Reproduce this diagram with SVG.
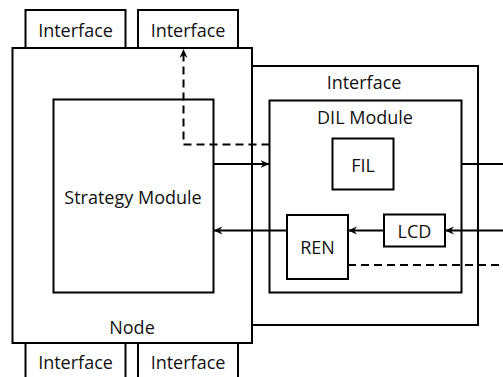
<svg xmlns="http://www.w3.org/2000/svg" width="503" height="377" viewBox="0 0 503 377">
<style>
.box{fill:none;stroke:#000;stroke-width:2}
.t{font-family:"Open Sans","Liberation Sans",sans-serif;font-size:18px;fill:#111;text-anchor:middle}
.c{fill:none;stroke:#000;stroke-width:2}
.d{stroke-dasharray:8 5}
</style>
<defs>
<marker id="ah" markerUnits="userSpaceOnUse" markerWidth="10" markerHeight="10" refX="9" refY="5" orient="auto">
<path d="M0,1 L9,5 L0,9 L3,5 z" fill="#000"/>
</marker>
</defs>
<rect width="503" height="377" fill="#fff"/>
<g id="if-top-1"><rect class="box" x="25.5" y="10" width="100" height="38"/><text class="t" x="75.5" y="36.5">Interface</text></g>
<g id="if-top-2"><rect class="box" x="138" y="10" width="100" height="38"/><text class="t" x="188" y="36.5">Interface</text></g>
<g id="if-bot-1"><rect class="box" x="25.5" y="343" width="100" height="40"/><text class="t" x="75.5" y="369">Interface</text></g>
<g id="if-bot-2"><rect class="box" x="138" y="343" width="100" height="40"/><text class="t" x="188" y="369">Interface</text></g>
<g id="node"><rect class="box" x="12.5" y="48" width="239.5" height="295" fill="#fff"/><text class="t" x="132" y="334">Node</text></g>
<g id="interface"><rect class="box" x="252" y="66" width="226" height="259"/><text class="t" x="364" y="89">Interface</text></g>
<g id="dil"><rect class="box" x="269.5" y="100.5" width="192" height="192"/><text class="t" x="365" y="124">DIL Module</text></g>
<g id="fil"><rect class="box" x="332.5" y="138.5" width="61" height="51"/><text class="t" x="363" y="172">FIL</text></g>
<g id="strategy"><rect class="box" x="53.5" y="99.5" width="160" height="193"/><text class="t" x="133" y="204">Strategy Module</text></g>
<g id="ren"><rect class="box" x="287" y="215" width="61" height="64"/><text class="t" x="317.5" y="253.5">REN</text></g>
<g id="lcd"><rect class="box" x="384" y="214.5" width="61" height="32"/><text class="t" x="414.5" y="238">LCD</text></g>
<g id="connectors">
<line class="c" x1="213.5" y1="164" x2="269.5" y2="164" marker-end="url(#ah)"/>
<line class="c" x1="461.5" y1="164" x2="503" y2="164"/>
<line class="c" x1="503" y1="230.5" x2="445" y2="230.5" marker-end="url(#ah)"/>
<line class="c" x1="384" y1="230.5" x2="348" y2="230.5" marker-end="url(#ah)"/>
<line class="c" x1="287" y1="230.5" x2="213.5" y2="230.5" marker-end="url(#ah)"/>
<line class="c d" x1="348" y1="265" x2="503" y2="265"/>
<path class="c d" d="M269.5,144.5 H183.5 V49" marker-end="url(#ah)"/>
</g>
</svg>
